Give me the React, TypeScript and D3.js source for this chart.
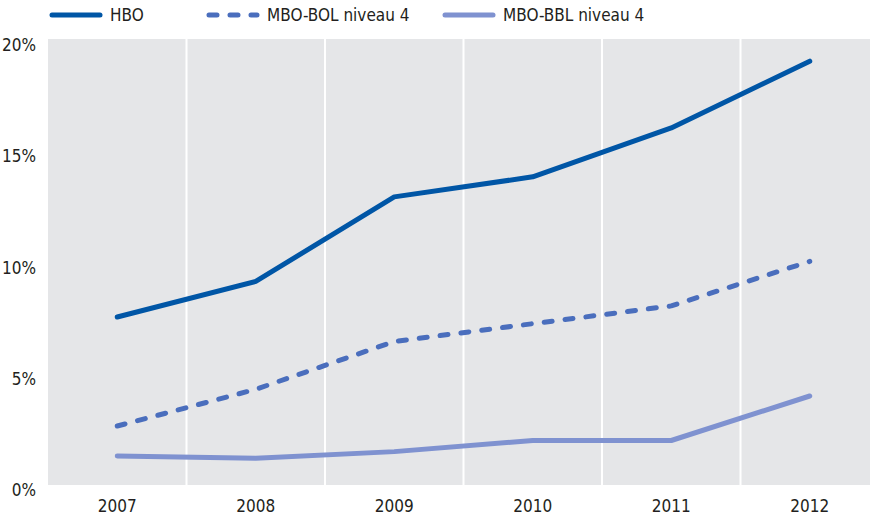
import React, { useEffect, useRef } from 'react';
import * as d3 from 'd3';

const years = ['2007', '2008', '2009', '2010', '2011', '2012'];
const hbo = [7.55, 9.15, 12.95, 13.85, 16.05, 19.05];
const mboBol = [2.65, 4.3, 6.45, 7.25, 8.05, 10.05];
const mboBbl = [1.3, 1.2, 1.5, 2.0, 2.0, 4.0];
const yTicks = [0, 5, 10, 15, 20];

const series = [
  { name: 'HBO', values: hbo, color: '#0056a6', dash: null },
  { name: 'MBO-BOL niveau 4', values: mboBol, color: '#4a6ebd', dash: '8,13' },
  { name: 'MBO-BBL niveau 4', values: mboBbl, color: '#7f92d0', dash: null },
];

const W = 870;
const H = 519;
const FONT = "'Liberation Sans Narrow', 'DejaVu Sans Condensed', 'Open Sans', sans-serif";

const App = () => {
  const ref = useRef<SVGSVGElement>(null);

  useEffect(() => {
    const svg = d3.select(ref.current);
    svg.selectAll('*').remove();

    const x = d3.scaleBand().domain(years).range([48, 879]);
    const y = d3.scaleLinear().domain([0, 20]).range([485, 40]);
    const cx = (d: string) => (x(d) as number) + x.bandwidth() / 2;

    // plot background
    svg.append('rect')
      .attr('x', 48)
      .attr('y', 39)
      .attr('width', 831)
      .attr('height', 446)
      .attr('fill', '#e5e6e8');

    // white separators between categories
    svg.selectAll('.sep')
      .data(years.slice(1))
      .enter()
      .append('line')
      .attr('x1', d => x(d) as number)
      .attr('x2', d => x(d) as number)
      .attr('y1', 39)
      .attr('y2', 485)
      .attr('stroke', '#ffffff')
      .attr('stroke-width', 2);

    // y labels
    svg.selectAll('.ytick')
      .data(yTicks)
      .enter()
      .append('text')
      .attr('x', 36)
      .attr('y', d => y(d) + 11)
      .attr('text-anchor', 'end')
      .attr('font-family', FONT)
      .attr('font-size', 17)
      .attr('fill', '#231f20')
      .text(d => `${d}%`);

    // x labels
    svg.selectAll('.xtick')
      .data(years)
      .enter()
      .append('text')
      .attr('x', d => cx(d))
      .attr('y', 512)
      .attr('text-anchor', 'middle')
      .attr('font-family', FONT)
      .attr('font-size', 17)
      .attr('fill', '#231f20')
      .text(d => d);

    const line = d3.line<number>()
      .x((_, i) => cx(years[i]))
      .y(d => y(d));

    series.forEach(s => {
      const p = svg.append('path')
        .datum(s.values)
        .attr('d', line)
        .attr('fill', 'none')
        .attr('stroke', s.color)
        .attr('stroke-width', 5)
        .attr('stroke-linecap', 'round')
        .attr('stroke-linejoin', 'round');
      if (s.dash) p.attr('stroke-dasharray', s.dash);
    });

    // legend
    const legendX = [50, 207, 443];
    series.forEach((s, i) => {
      const g = svg.append('g').attr('transform', `translate(${legendX[i]},15)`);
      const l = g.append('line')
        .attr('x1', 2)
        .attr('x2', 50)
        .attr('y1', 0)
        .attr('y2', 0)
        .attr('stroke', s.color)
        .attr('stroke-width', 5)
        .attr('stroke-linecap', 'round');
      if (s.dash) l.attr('stroke-dasharray', '8,13');
      g.append('text')
        .attr('x', 60)
        .attr('y', 6)
        .attr('font-family', FONT)
        .attr('font-size', 17)
        .attr('fill', '#231f20')
        .text(s.name);
    });
  }, []);

  return (
    <div style={{ position: 'absolute', left: 0, top: 0 }}>
      <svg ref={ref} width={W} height={H} style={{ display: 'block' }} />
    </div>
  );
};

export default App;
